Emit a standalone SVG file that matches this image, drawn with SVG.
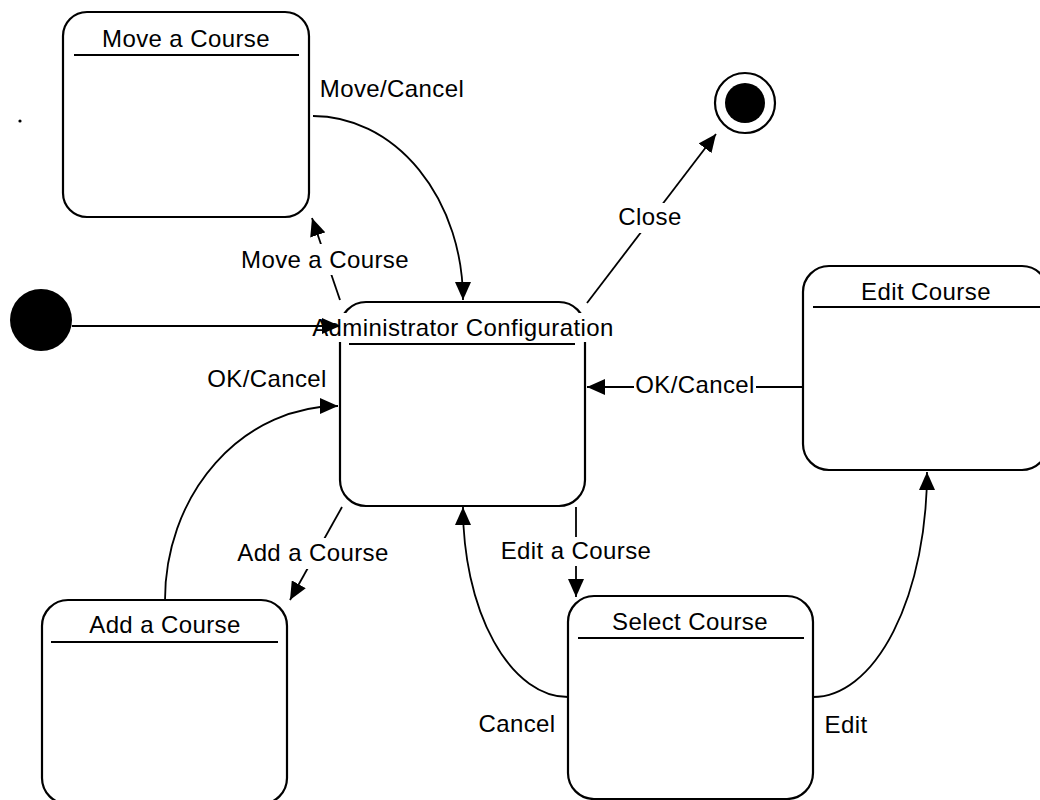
<svg xmlns="http://www.w3.org/2000/svg" width="1040" height="800" viewBox="0 0 1040 800">
  <defs>
    <marker id="arrow" markerUnits="userSpaceOnUse" markerWidth="18" markerHeight="16" refX="18" refY="8" orient="auto">
      <path d="M0,0 L18,8 L0,16 Z" fill="#000"/>
    </marker>
    <style>
      .state { fill: #fff; stroke: #000; stroke-width: 2.2; }
      .divider { stroke: #000; stroke-width: 2.2; }
      .title, .label { font-family: "Liberation Sans", Arial, sans-serif; font-size: 24px; letter-spacing: 0.4px; fill: #000; text-anchor: middle; }
      .edge { fill: none; stroke: #000; stroke-width: 1.8; marker-end: url(#arrow); }
      .bg { fill: #fff; stroke: none; }
    </style>
  </defs>

  <rect width="1040" height="800" fill="#fff"/>

  <!-- stray mark -->
  <circle cx="20" cy="121" r="1.6" fill="#000"/>

  <!-- initial pseudo-state -->
  <g id="initial">
    <circle cx="41" cy="320" r="31" fill="#000"/>
  </g>

  <!-- final state -->
  <g id="final">
    <circle cx="745" cy="103" r="30" fill="#fff" stroke="#000" stroke-width="2.2"/>
    <circle cx="745" cy="103" r="20" fill="#000"/>
  </g>

  <g id="move-course">
    <rect class="state" x="63" y="12" width="246" height="205" rx="24" ry="24"/>
    <line class="divider" x1="74" y1="55" x2="299" y2="55"/>
    <text class="title" x="186" y="47">Move a Course</text>
  </g>

  <g id="admin-config">
    <rect class="state" x="340" y="302" width="245" height="204" rx="26" ry="26"/>
    <rect class="bg" x="308" y="313" width="311" height="29"/>
    <line class="divider" x1="349" y1="344" x2="575" y2="344"/>
    <text class="title" x="463" y="336">Administrator Configuration</text>
  </g>

  <g id="edit-course">
    <rect class="state" x="803" y="266" width="245" height="204" rx="26" ry="26"/>
    <line class="divider" x1="813" y1="307" x2="1040" y2="307"/>
    <text class="title" x="926" y="300">Edit Course</text>
  </g>

  <g id="select-course">
    <rect class="state" x="568" y="596" width="245" height="203" rx="26" ry="26"/>
    <line class="divider" x1="578" y1="638" x2="804" y2="638"/>
    <text class="title" x="690" y="630">Select Course</text>
  </g>

  <g id="add-course">
    <rect class="state" x="42" y="600" width="245" height="204" rx="26" ry="26"/>
    <line class="divider" x1="51" y1="642" x2="278" y2="642"/>
    <text class="title" x="165" y="633">Add a Course</text>
  </g>

  <g id="connectors">
    <!-- start -->
    <path class="edge" d="M72,326 L340,326"/>
    <!-- Move/Cancel -->
    <path class="edge" d="M313,116 A150,184 0 0 1 463,300"/>
    <!-- Move a Course -->
    <path class="edge" d="M340,300 L312,218"/>
    <!-- Close -->
    <path class="edge" d="M587,303 L716,134"/>
    <!-- OK/Cancel from Edit Course -->
    <path class="edge" d="M803,387 L587,387"/>
    <!-- OK/Cancel from Add a Course -->
    <path class="edge" d="M165,600 A173,194 0 0 1 338,406"/>
    <!-- Add a Course -->
    <path class="edge" d="M342,507 L290,600"/>
    <!-- Edit a Course -->
    <path class="edge" d="M576,507 L576,597"/>
    <!-- Cancel -->
    <path class="edge" d="M568,697 A105,190 0 0 1 463,507"/>
    <!-- Edit -->
    <path class="edge" d="M813,697 A114,225 0 0 0 927,472"/>

    <!-- transition labels -->
    <text class="label" x="392" y="97">Move/Cancel</text>
    <rect class="bg" x="241" y="244" width="168" height="31"/>
    <text class="label" x="325" y="268">Move a Course</text>
    <rect class="bg" x="616" y="203" width="68" height="30"/>
    <text class="label" x="650" y="225">Close</text>
    <rect class="bg" x="634" y="377" width="122" height="20"/>
    <text class="label" x="695" y="393">OK/Cancel</text>
    <text class="label" x="267" y="387">OK/Cancel</text>
    <rect class="bg" x="235" y="538" width="156" height="31"/>
    <text class="label" x="313" y="561">Add a Course</text>
    <rect class="bg" x="498" y="537" width="156" height="29"/>
    <text class="label" x="576" y="559">Edit a Course</text>
    <text class="label" x="517" y="732">Cancel</text>
    <text class="label" x="846" y="733">Edit</text>
  </g>
</svg>
